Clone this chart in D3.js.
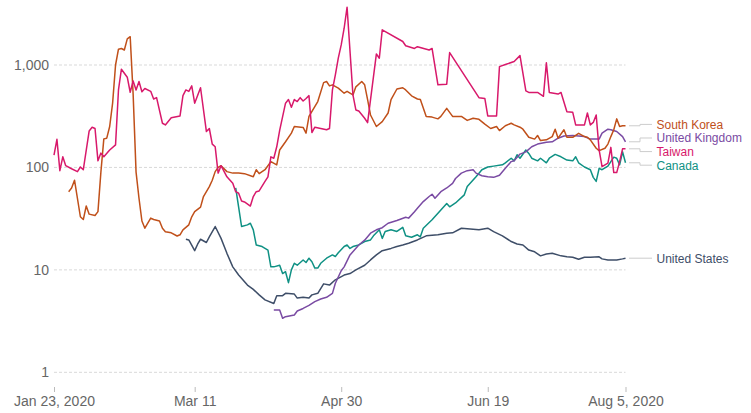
<!DOCTYPE html>
<html>
<head>
<meta charset="utf-8">
<script src="https://cdn.jsdelivr.net/npm/d3@7"></script>
<style>
    body { margin: 0; background: #fff; }
    svg { font-family: "Liberation Sans", Arial, sans-serif; }
    .grid line { stroke: #d9d9d9; stroke-dasharray: 3,2; }
    .tick-label { fill: #666; font-size: 14px; }
    .series { fill: none; stroke-width: 1.5; stroke-linejoin: round; }
    .leader { fill: none; stroke: #ccc; stroke-width: 1; }
    .line-label { font-size: 12px; }
</style>
</head>
<body>
<script>
(function(){

    //first day of the chart, every series point is [days since startDate, tests per confirmed case]
    var startDate = new Date(2020, 0, 23),
        endDate = new Date(2020, 7, 5);

    var southKorea = [[5,58],[6,63],[7,75],[9,33],[10,31],[11,42],[12,35],[14,34],[15,37],[16,90],[17,190],[18,193],[19,251],[20,424],[21,1000],[22,1426],[23,1450],[24,1400],[25,1800],[26,1890],[27,520],[28,90],[29,50],[30,30],[31,25.5],[33,32],[34,31],[36,30],[37,25.5],[38,23.6],[40,23],[42,21.4],[43,22],[44,24.6],[46,27.5],[47,33],[48,37],[50,41],[51,52],[53,65],[54,75],[55,91],[56,100],[57,104],[59,91],[61,88],[63,88],[65,87],[68,81],[69,95],[70,87],[72,95],[74,114],[76,106],[77,148],[79,178],[81,216],[82,251],[85,246],[86,216],[87,315],[90,440],[92,673],[93,690],[94,625],[95,640],[97,595],[99,530],[100,553],[102,510],[103,612],[105,690],[106,640],[107,460],[108,325],[110,251],[112,280],[114,340],[115,460],[117,583],[119,600],[120,571],[122,500],[124,466],[125,460],[127,315],[129,310],[131,298],[132,315],[134,377],[136,315],[139,315],[141,288],[143,302],[145,295],[147,265],[149,240],[151,251],[152,229],[154,255],[156,270],[157,260],[159,247],[160,236],[162,197],[164,189],[165,205],[166,183],[168,186],[170,200],[171,236],[172,193],[174,233],[175,197],[177,197],[179,215],[181,200],[182,197],[183,186],[185,154],[186,146],[188,154],[189,169],[190,200],[191,233],[192,298],[193,251],[194,255],[195,255]];

    var unitedKingdom = [[75,4.06],[77,4.06],[78,3.37],[79,3.49],[82,3.63],[83,3.97],[85,4.2],[87,4.5],[89,4.9],[91,5.2],[93,5.4],[95,5.9],[96,7.4],[98,9.8],[99,10.7],[101,14],[104,17.5],[106,19.5],[108,22.8],[110,24.6],[112,25.8],[114,28.5],[117,30.3],[120,32.6],[121,32],[123,37],[124,40],[126,46.4],[128,52],[129,54.7],[130,50],[132,58],[134,63],[136,70],[137,78],[139,88],[141,93],[143,95],[144,88],[146,83],[148,81],[150,80],[152,84],[154,98],[156,114],[157,116],[159,135],[161,142],[163,159],[165,169],[168,176],[170,178],[172,193],[174,203],[177,205],[179,203],[181,200],[183,189],[186,189],[187,216],[189,236],[190,233],[192,224],[194,200],[195,178]];

    var taiwan = [[0,132],[1,188],[2,93],[3,127],[4,104],[6,97],[8,91],[9,101],[10,95],[12,227],[13,247],[14,240],[15,116],[16,138],[17,127],[19,148],[21,166],[22,571],[23,910],[25,760],[26,542],[27,700],[28,571],[29,690],[30,548],[31,590],[33,553],[34,466],[35,480],[37,270],[38,260],[40,306],[43,318],[44,502],[45,571],[46,553],[47,625],[48,424],[50,600],[52,224],[53,240],[54,169],[55,159],[56,88],[57,104],[59,81],[61,70],[62,58],[63,56],[64,47],[65,46],[67,42],[68,52],[69,58],[70,59],[72,73],[73,81],[74,127],[75,123],[76,159],[77,230],[79,424],[80,460],[81,386],[82,460],[83,440],[84,480],[85,445],[86,471],[87,502],[88,219],[89,247],[91,240],[93,233],[94,240],[95,571],[96,800],[97,1165],[98,1570],[99,2285],[100,3665],[102,510],[103,364],[104,355],[106,302],[107,274],[110,1283],[111,1165],[112,2203],[119,1695],[120,1540],[123,1450],[124,1510],[128,1400],[129,1450],[131,640],[134,650],[135,1323],[145,480],[147,471],[148,318],[151,318],[152,965],[154,1010],[157,1080],[159,1235],[161,558],[162,540],[165,540],[167,495],[168,1050],[169,540],[172,520],[173,540],[175,350],[177,345],[178,260],[181,260],[182,340],[183,260],[184,275],[185,325],[186,148],[187,102],[189,110],[190,157],[191,89],[192,89],[193,114],[194,152],[195,152]];

    var canada = [[62,63],[63,41],[64,26.5],[66,27.5],[67,28.5],[68,24.6],[69,17.5],[71,16.9],[73,15.6],[74,10.7],[75,10.7],[77,11.1],[78,9.2],[79,9.6],[80,7.5],[81,10],[82,11.6],[83,11.1],[85,12.5],[86,11.8],[87,13],[88,12],[89,10.4],[90,10.4],[91,11.6],[93,13],[95,14],[96,13.5],[97,14.7],[99,16.9],[100,17.5],[101,16.2],[102,16.9],[104,17.5],[106,18.9],[108,19.6],[109,21.5],[111,24.6],[112,20.3],[113,23.7],[115,24.6],[117,23.7],[119,26],[120,21.5],[122,20.8],[124,22],[125,21],[126,25.5],[129,30.8],[132,38.5],[134,44.5],[135,41.3],[137,45],[140,54],[141,65],[144,81],[146,95],[148,101],[150,103],[153,106],[154,111],[156,123],[157,116],[158,133],[159,123],[161,148],[162,137],[163,123],[165,116],[166,123],[168,111],[169,123],[171,134],[173,127],[175,118],[177,116],[178,127],[179,111],[181,101],[183,95],[184,80],[185,73],[186,98],[187,95],[189,103],[190,114],[191,126],[192,123],[193,106],[194,142],[195,111]];

    var unitedStates = [[45,19.9],[46,19.6],[48,15.4],[49,17.8],[50,19.9],[52,18.5],[53,21],[55,26.5],[57,20.3],[59,14.5],[61,10.7],[63,8.9],[66,7.1],[68,6.45],[70,5.7],[72,5.1],[75,4.7],[76,5.6],[78,5.6],[79,5.9],[82,5.8],[83,5.3],[85,5.4],[87,5.3],[88,5.7],[90,5.9],[92,7.3],[94,7.1],[96,8],[99,8.9],[101,9.2],[103,10],[106,11.1],[108,12.5],[110,14],[112,15.4],[115,16.2],[117,16.9],[119,17.5],[121,18.2],[124,19.6],[127,21.5],[131,22],[134,22.8],[136,23],[139,25.5],[142,25],[145,24.6],[148,25.5],[150,23.6],[153,21.5],[156,18.9],[158,17.9],[160,17.5],[162,15.6],[164,15],[166,13.7],[168,14.3],[170,14.5],[173,13.7],[175,13.4],[177,13.3],[179,12.7],[181,13.3],[183,13.3],[186,13.4],[187,12.8],[189,12.5],[192,12.5],[194,12.8],[195,13]];

    var seriesNames = ["South Korea", "United Kingdom", "Taiwan", "Canada", "United States"];
    var seriesData = [southKorea, unitedKingdom, taiwan, canada, unitedStates];
    var seriesColors = ["#c0501a", "#7a4ba3", "#d8196b", "#0f9184", "#3e4e68"];

    var yTicks = [1, 10, 100, 1000];
    var xTickDates = [new Date(2020, 0, 23), new Date(2020, 2, 11), new Date(2020, 3, 30), new Date(2020, 5, 19), new Date(2020, 7, 5)];

window.onload = drawChart();

function drawChart(){

    var width = 751,
        height = 413;

    var svg = d3.select("body")
        .append("svg")
        .attr("width", width)
        .attr("height", height);

    //scales
    var x = d3.scaleTime()
        .domain([startDate, endDate])
        .range([54, 625.5]);

    var y = d3.scaleLog()
        .domain([1, 1000])
        .range([372.3, 65]);

    //dashed horizontal grid
    var grid = svg.append("g").attr("class", "grid");
    grid.selectAll("line")
        .data(yTicks)
        .enter()
        .append("line")
        .attr("x1", x.range()[0])
        .attr("x2", x.range()[1])
        .attr("y1", function(d){ return y(d); })
        .attr("y2", function(d){ return y(d); });

    //y labels
    svg.selectAll(".ylab")
        .data(yTicks)
        .enter()
        .append("text")
        .attr("class", "tick-label")
        .attr("text-anchor", "end")
        .attr("x", 49)
        .attr("y", function(d){ return y(d) + 5; })
        .text(d3.format(","));

    //x axis, only tick marks + labels
    var fmtYear = d3.timeFormat("%b %-d, %Y"),
        fmtShort = d3.timeFormat("%b %-d");
    var xAxis = d3.axisBottom(x)
        .tickValues(xTickDates)
        .tickSize(5)
        .tickFormat(function(d, i){
            return (i == 0 || i == xTickDates.length - 1) ? fmtYear(d) : fmtShort(d);
        });
    var xg = svg.append("g")
        .attr("transform", "translate(0,387)")
        .call(xAxis);
    xg.select(".domain").remove();
    xg.selectAll(".tick line").attr("stroke", "#bbb");
    xg.selectAll(".tick text")
        .attr("class", "tick-label")
        .attr("y", 9)
        .attr("dy", "0.71em");
    xg.attr("font-family", null).attr("font-size", null);

    //lines
    var line = d3.line()
        .x(function(d){ return x(d3.timeDay.offset(startDate, d[0])); })
        .y(function(d){ return y(d[1]); });

    // draw back to front, so US sits under the others
    var order = [4, 3, 1, 0, 2];
    order.forEach(function(i){
        svg.append("path")
            .datum(seriesData[i])
            .attr("class", "series")
            .attr("stroke", seriesColors[i])
            .attr("d", line);
    });

    //end labels, spread apart where they collide
    var gap = 13.6;
    var labels = seriesNames.map(function(name, i){
        var last = seriesData[i][seriesData[i].length - 1];
        return { name: name, color: seriesColors[i], y0: y(last[1]), x0: x(d3.timeDay.offset(startDate, last[0])) };
    });
    labels.sort(function(a, b){ return a.y0 - b.y0; });

    var groups = [];
    labels.forEach(function(l){
        groups.push({ items: [l], mean: l.y0 });
        while (groups.length > 1){
            var g = groups[groups.length - 1],
                p = groups[groups.length - 2];
            var pBottom = p.mean + (p.items.length - 1) * gap / 2,
                gTop = g.mean - (g.items.length - 1) * gap / 2;
            if (gTop - pBottom < gap){
                var items = p.items.concat(g.items);
                groups.pop();
                groups[groups.length - 1] = { items: items, mean: d3.mean(items, function(d){ return d.y0; }) };
            } else break;
        }
    });
    groups.forEach(function(g){
        g.items.forEach(function(l, i){
            l.y = g.mean - (g.items.length - 1) * gap / 2 + i * gap;
        });
    });

    svg.selectAll(".leader")
        .data(labels)
        .enter()
        .append("path")
        .attr("class", "leader")
        .attr("d", function(d){
            return "M" + (d.x0 + 3.5) + "," + d.y0 + "H640V" + d.y + "H652";
        });

    svg.selectAll(".line-label")
        .data(labels)
        .enter()
        .append("text")
        .attr("class", "line-label")
        .attr("x", 656.5)
        .attr("y", function(d){ return d.y + 4.5; })
        .attr("fill", function(d){ return d.color; })
        .text(function(d){ return d.name; });
}

})();
</script>
</body>
</html>
